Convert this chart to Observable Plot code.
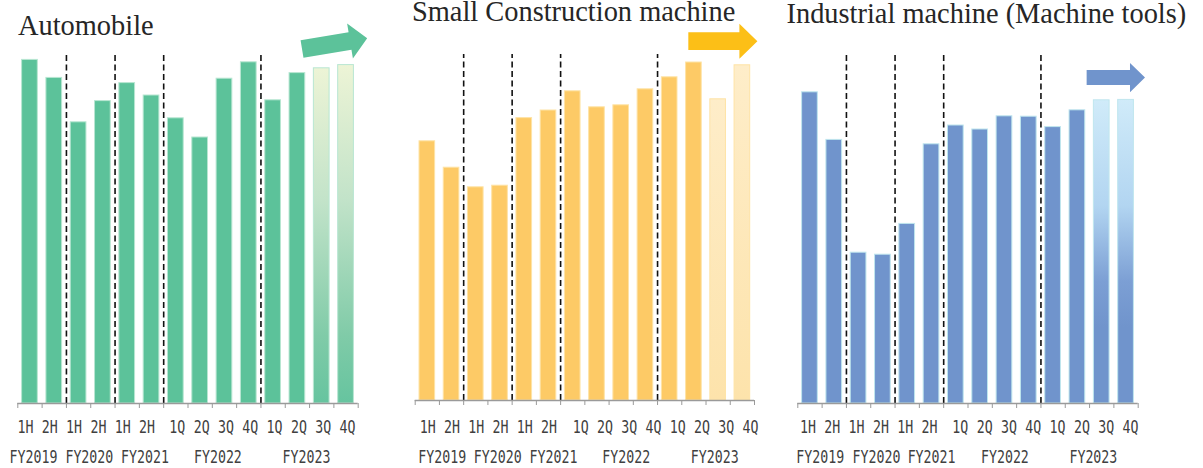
<!DOCTYPE html>
<html><head><meta charset="utf-8">
<script src="https://cdn.jsdelivr.net/npm/d3@7"></script>
<script src="https://cdn.jsdelivr.net/npm/@observablehq/plot@0.6"></script>
<style>
body{margin:0;background:#fff;}
#root{position:relative;width:1203px;height:468px;overflow:hidden;background:#fff;}
.panel{position:absolute;top:0;}
.title{position:absolute;font-family:"Liberation Serif","Times New Roman",serif;font-size:28.4px;line-height:22px;color:#262626;white-space:nowrap;}
</style></head><body><div id="root"></div>
<script>
// ---- data ----
const periods = ["1H","2H","1H","2H","1H","2H","1Q","2Q","3Q","4Q","1Q","2Q","3Q","4Q"];
const fiscalYears = ["FY2019","FY2020","FY2021","FY2022","FY2023"];
const yearOfPeriod = ["FY2019","FY2019","FY2020","FY2020","FY2021","FY2021","FY2022","FY2022","FY2022","FY2022","FY2023","FY2023","FY2023","FY2023"];
const projected = [false,false,false,false,false,false,false,false,false,false,false,false,true,true];
const automobile = [85.9, 81.4, 70.3, 75.6, 80.1, 77.0, 71.3, 66.5, 81.2, 85.3, 75.8, 82.6, 83.8, 84.6];
const smallConstruction = [64.8, 58.2, 53.3, 53.7, 70.6, 72.5, 77.3, 73.3, 73.8, 77.8, 80.8, 84.5, 75.3, 83.8];
const industrialMachine = [77.8, 65.9, 37.7, 37.2, 44.9, 64.8, 69.5, 68.5, 71.8, 71.7, 69.1, 73.3, 75.8, 75.9];
const titles = ["Automobile", "Small Construction machine", "Industrial machine (Machine tools)"];

const idx = d3.range(periods.length);
const dividers = idx.filter(i => i > 0 && yearOfPeriod[i] !== yearOfPeriod[i - 1]);
const groupCenter = fy => d3.mean(idx.filter(i => yearOfPeriod[i] === fy), i => i + 0.5);

const panels = [
  {values: automobile, title: titles[0], left: 0, width: 400, ml: 17.3, mr: 42.3, mt: 3, mb: 65,
   color: "#5cc29a", edge: "#b8e6d2",
   grad: [[0, "#edf4d6"], [0.4, "#c2e3c9"], [0.8, "#80cba8"], [1, "#66c49f"]],
   dividerTop: 87.2, dxH: -4.5, dxQ: 1.5, fyNudge: [-8.6, -1.4, 5.6, 5.6, -3.1], labDy: 24.5, fyDy: 54.5,
   arrow: {x1: 11.71, y1: 88.5, x2: 14.39, y2: 91.2, shaft: 17.6, head: 35.4, headLen: 17.4, color: "#5cc29a"},
   titleLeft: 18, titleBase: 36},
  {values: smallConstruction, title: titles[1], left: 397, width: 400, ml: 17.7, mr: 43, mt: 0, mb: 68,
   color: "#fdca66", edge: "#fee3a6",
   grad: [[0, "#feedc9"], [1, "#fde3ab"]],
   dividerTop: 86.5, dxH: 0.5, dxQ: 8, fyNudge: [2.8, 9.9, 17.1, 17.2, 8.7], labDy: 27.5, fyDy: 57.5,
   arrow: {x1: 11.29, y1: 89.7, x2: 14.14, y2: 89.7, shaft: 17.7, head: 35, headLen: 18, color: "#fcbf17"},
   titleLeft: 412, titleBase: 21.7},
  {values: industrialMachine, title: titles[2], left: 780, width: 423, ml: 17.3, mr: 65.3, mt: 3, mb: 65,
   color: "#7094cc", edge: "#bfe6ee",
   grad: [[0, "#d0ebf9"], [0.35, "#b2d5f1"], [0.6, "#7c9fd4"], [0.75, "#7094cc"], [1, "#7094cc"]],
   dividerTop: 87, dxH: -2, dxQ: 4.5, fyNudge: [-1.9, 5.8, 12.2, 12.6, 3.8], labDy: 24.5, fyDy: 54.5,
   arrow: {x1: 11.9, y1: 81.35, x2: 14.3, y2: 81.35, shaft: 15, head: 29.4, headLen: 15, color: "#7094cc"},
   titleLeft: 786.5, titleBase: 23.3}
];

const root = document.getElementById("root");
const labelFont = {fontFamily: "DejaVu Sans Mono, Liberation Mono, monospace", fontSize: 17, fill: "#404040"};
const TITLE_FS = 28.4, TITLE_LH = 22;
const titleBaselineOffset = (TITLE_LH - 1.107 * TITLE_FS) / 2 + 0.891 * TITLE_FS;

panels.forEach((p, k) => {
  const gid = "grad" + k;
  const step = (p.width - p.ml - p.mr) / periods.length;
  const fyLabels = fiscalYears.map((fy, j) => ({fy, x: groupCenter(fy) + p.fyNudge[j] / step}));
  const solid = idx.filter(i => !projected[i]);
  const proj = idx.filter(i => projected[i]);
  const hIdx = idx.filter(i => periods[i].endsWith("H"));
  const qIdx = idx.filter(i => !periods[i].endsWith("H"));
  const chart = Plot.plot({
    width: p.width, height: 468,
    marginLeft: p.ml, marginRight: p.mr, marginTop: p.mt, marginBottom: p.mb,
    x: {domain: [0, periods.length], axis: null},
    y: {domain: [0, 100], axis: null},
    style: {background: "transparent", overflow: "visible"},
    marks: [
      Plot.rectY(solid, {x1: i => i, x2: i => i + 1, y1: 0, y2: i => p.values[i], insetLeft: 4.3, insetRight: 4.3,
        fill: p.color, stroke: p.edge, strokeWidth: 1}),
      Plot.rectY(proj, {x1: i => i, x2: i => i + 1, y1: 0, y2: i => p.values[i], insetLeft: 4.3, insetRight: 4.3,
        fill: `url(#${gid})`, stroke: p.edge, strokeWidth: 1}),
      Plot.ruleX(dividers, {x: d => d, y1: 0, y2: p.dividerTop, stroke: "#111", strokeWidth: 1.6, strokeDasharray: "6,3.5"}),
      Plot.ruleY([0], {stroke: "#9a9a9a", strokeWidth: 1.3}),
      Plot.axisX(d3.range(periods.length + 1), {tickSize: 5, tickFormat: () => "", stroke: "#9a9a9a", label: null}),
      Plot.text(hIdx, {x: i => i + 0.5, y: 0, text: i => periods[i], dy: p.labDy, dx: p.dxH, ...labelFont}),
      Plot.text(qIdx, {x: i => i + 0.5, y: 0, text: i => periods[i], dy: p.labDy, dx: p.dxQ, ...labelFont}),
      Plot.text(fyLabels, {x: "x", y: 0, text: "fy", dy: p.fyDy, ...labelFont})
    ]
  });
  const svg = d3.select(chart);
  const lg = svg.append("defs").append("linearGradient").attr("id", gid)
    .attr("x1", 0).attr("y1", 0).attr("x2", 0).attr("y2", 1);
  p.grad.forEach(([o, c]) => lg.append("stop").attr("offset", o).attr("stop-color", c));
  chart.querySelectorAll('g[aria-label="text"] text').forEach(t => {
    const tr = t.getAttribute("transform");
    if (tr) t.setAttribute("transform", tr + " scale(0.78,1)");
    else {
      const x = +t.getAttribute("x") || 0;
      t.setAttribute("x", 0);
      t.setAttribute("transform", `translate(${x},0) scale(0.78,1)`);
    }
  });
  const a = p.arrow, sx = chart.scale("x"), sy = chart.scale("y");
  const X1 = sx.apply(a.x1), Y1 = sy.apply(a.y1), X2 = sx.apply(a.x2), Y2 = sy.apply(a.y2);
  const ddx = X2 - X1, ddy = Y2 - Y1, L = Math.hypot(ddx, ddy);
  const ux = ddx / L, uy = ddy / L, px = -uy, py = ux;
  const bx = X2 - ux * a.headLen, by = Y2 - uy * a.headLen;
  const s = a.shaft / 2, h = a.head / 2;
  const pts = [[X1 + px * s, Y1 + py * s], [bx + px * s, by + py * s], [bx + px * h, by + py * h], [X2, Y2],
               [bx - px * h, by - py * h], [bx - px * s, by - py * s], [X1 - px * s, Y1 - py * s]];
  svg.append("polygon").attr("points", pts.map(q => q.join(",")).join(" ")).attr("fill", a.color);

  const wrap = document.createElement("div");
  wrap.className = "panel";
  wrap.style.left = p.left + "px";
  wrap.appendChild(chart);
  root.appendChild(wrap);

  const t = document.createElement("div");
  t.className = "title";
  t.textContent = p.title;
  t.style.left = p.titleLeft + "px";
  t.style.top = (p.titleBase - titleBaselineOffset) + "px";
  root.appendChild(t);
});
</script></body></html>
